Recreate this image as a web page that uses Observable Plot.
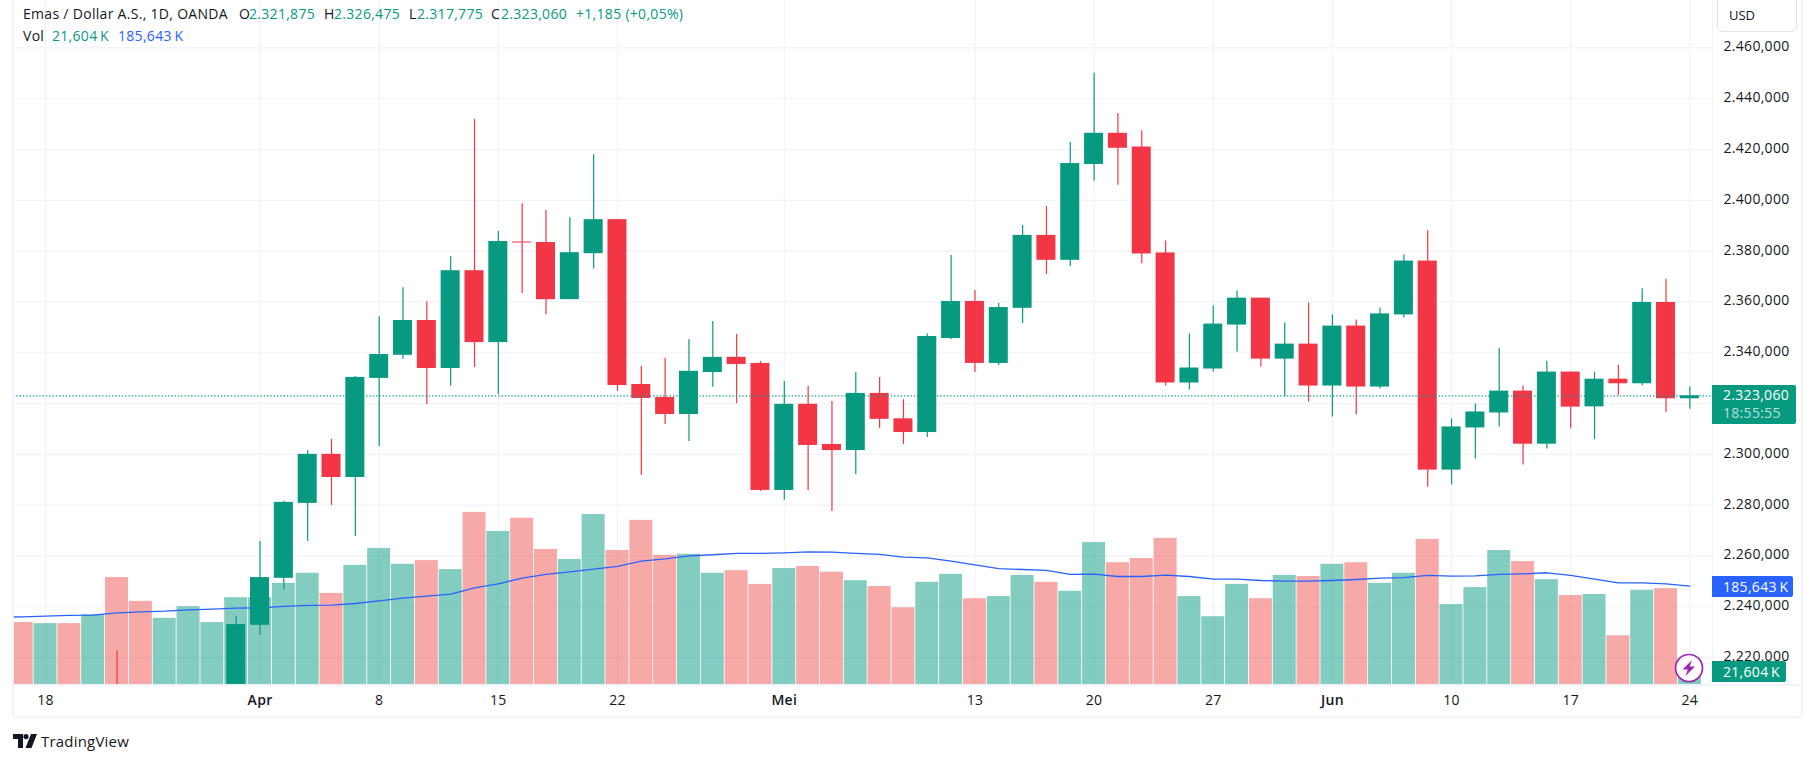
<!DOCTYPE html>
<html><head><meta charset="utf-8">
<script src="https://cdn.jsdelivr.net/npm/d3@7"></script>
<script src="https://cdn.jsdelivr.net/npm/@observablehq/plot@0.6"></script>
<style>
html,body{margin:0;padding:0;background:#fff;width:1815px;height:763px;overflow:hidden}
#wrap{position:relative;width:1815px;height:763px;font-family:"Open Sans",sans-serif;color:#131722}
#wrap svg{display:block}
.t{position:absolute;white-space:nowrap;font-size:14px;letter-spacing:.3px;line-height:18px}
.g{color:#089981}.b{color:#2962FF}
.tag{position:absolute;left:1712px;color:#fff;border-radius:0 2px 2px 0;font-size:14px;letter-spacing:.3px;line-height:18px;box-sizing:border-box;padding-left:11px;white-space:nowrap}
.box{position:absolute;background:#f0f3fa}
</style></head><body><div id="wrap"></div>
<script>
// Bars run from index -10 (left of the pane) to 61 (Jun 24); index 1 is Apr 1. Prices in USD, volume in K.
const opens=[null,null,null,null,null,null,null,null,null,null,
2206,2232.7,2251.2,2280.7,2300,2290.9,2329.9,2339,2352.7,2333.8,2372.3,2344,2383.6,2383.4,2360.9,2379,2392.4,
2327.5,2322.4,2315.7,2332.2,2338.2,2335.8,2285.8,2319.7,2303.9,2301.5,2324,2314,2308.6,2345.6,2360.2,2335.8,2357.5,2386.2,2376.4,2414.1,
2426.4,2421,2379.3,2328.1,2333.6,2350.9,2361.5,2337.5,2343.4,2326.9,2350.5,2326.5,2354.9,2376.1,2293.8,2310.4,2316.3,2324.9,2304,2332.4,2318.7,2329.6,2327.8,2359.8,2321.875];
const closes=[null,null,null,null,null,null,null,null,null,null,
2233,2251.5,2281.1,2300,2290.9,2330.3,2339.3,2352.7,2333.8,2372.3,2344,2383.8,2383.2,2360.9,2379.4,2392.4,2327.1,
2322,2315.7,2332.7,2338.2,2335.4,2285.8,2319.7,2303.5,2301.5,2324,2313.8,2308.6,2346.4,2360.2,2335.8,2357.8,2386.2,2376.4,2414.5,2426.4,
2420.5,2378.9,2328.1,2334,2351.3,2361.5,2337.5,2343.4,2326.9,2350.5,2326.5,2355.3,2376.1,2293.8,2310.8,2316.7,2324.9,2304,2332.4,2318.6,2329.6,2327.8,2359.8,2321.9,2323.06];
const highs=[null,null,null,null,null,2222.7,null,null,null,null,
2236.2,2265.7,2281.5,2301.5,2305.9,2330.7,2354.2,2365.6,2360.1,2377.8,2431.8,2387.7,2398.7,2396,2393.2,2418,2392.4,
2334.6,2337.8,2345.2,2352.3,2347.2,2336.6,2328.7,2326.8,2320.8,2332.2,2330.3,2321.5,2347.4,2378.3,2364.5,2359.4,2390.1,2397.6,2422.8,2450,
2434.2,2427.4,2384,2347.4,2358.4,2364.3,2361.5,2351.7,2359.6,2354.9,2352.9,2357.6,2378.5,2388,2314,2319.8,2341.8,2326.9,2336.7,2332.4,2332.4,2335.1,2365.2,2368.9,2326.475];
const lows=[null,null,null,null,null,2200,null,null,null,null,
2200,2228.8,2246.8,2265.7,2279.9,2267.7,2303.1,2337.4,2319.6,2326.8,2334.2,2323.6,2363.3,2355,2360.9,2373,2324.8,
2291.7,2311.8,2305.1,2326.4,2320,2285.4,2281.9,2285.8,2277.5,2292,2310.2,2303.9,2306.6,2345.2,2332.2,2335,2351.5,2370.8,2374,2407.5,
2405.9,2375,2326.9,2325.3,2332.4,2340.3,2334.4,2322.6,2320.6,2314.7,2315.5,2325.7,2353.7,2287.1,2287.9,2298.2,2310.8,2295.8,2302.1,2310,2305.9,2323.2,2327,2316.4,2317.775];
const volumes=[null,117,115,115,132,202,157,125,147,117,
164,164,191,210,172,225,257,227,234,217,325,289,314,255,236,321,253,
310,244,246,210,215,189,219,223,212,196,185,145,193,208,162,166,206,193,176,268,
230,238,276,166,128,189,162,206,204,227,230,191,210,274,151,183,253,232,198,168,170,92,178,181,21.604];
const volumeSma=[127,127.8,129,130.4,131,135.4,137.3,138.6,141,142.3,
144.2,144.8,147.4,149.3,149.9,153,158,163.1,166.9,170.7,182.6,190.2,200.9,207.8,212.8,217.9,222.9,
233,237.4,243,245,247.5,247.5,248.7,250.6,250,247.5,245.6,240.5,239.3,233,226,219,217.2,215.4,207.8,208.4,
204,204,206.5,204,199,199,196.4,195.2,195.2,196.4,198.3,200.8,202,205.9,204.6,205.2,207.8,209,211,205.9,199,192,192,190,185.643];
const offscreenUp=[null,false,true,false,true,false,false,true,true,true];
const priceTicks=[2220,2240,2260,2280,2300,2320,2340,2360,2380,2400,2420,2440,2460];
const labelledPriceTicks=[2220,2240,2260,2280,2300,2340,2360,2380,2400,2420,2440,2460];
const plainTicks=[[-8,"18"],[6,"8"],[11,"15"],[16,"22"],[31,"13"],[36,"20"],[41,"27"],[51,"10"],[56,"17"],[61,"24"]];
const monthTicks=[[1,"Apr"],[23,"Mei"],[46,"Jun"]];

const GREEN="#089981",RED="#F23645",BLUE="#2962FF",GRID="#f1f3f8",VOLRED="#EF5350";
const bars=volumes.map((v,k)=>({i:k-10,open:opens[k],close:closes[k],high:highs[k],low:lows[k],volume:v,sma:volumeSma[k],
  up:opens[k]!=null?closes[k]>=opens[k]:offscreenUp[k]}));
const wicks=bars.filter(d=>d.high!=null);
const bodies=bars.filter(d=>d.open!=null);
const vols=bars.filter(d=>d.volume!=null);
const last=bars[bars.length-1];

// Volume shares the pane on its own overlay axis, mapped onto the price axis.
const PRICE_LOW=2209.4,PRICE_HIGH=2478.68;
const volY=d3.scaleLinear([0,1000],[PRICE_LOW,PRICE_LOW+208.46]);
const id=d3.formatLocale({decimal:",",thousands:".",grouping:[3],currency:["",""]});
const fmtPrice=id.format(",.3f");
const FONT='"Open Sans",sans-serif';

const chart=Plot.plot({
  width:1815,height:763,marginLeft:13,marginRight:103,marginTop:0,marginBottom:79,
  x:{domain:[-9.345,61.95],axis:null},
  y:{domain:[PRICE_LOW,PRICE_HIGH],axis:null},
  style:{fontFamily:FONT,background:"transparent",overflow:"visible",letterSpacing:"0.3px"},
  marks:[
    Plot.ruleY(priceTicks,{stroke:GRID,strokeWidth:1.2}),
    Plot.ruleX([...plainTicks,...monthTicks],{x:d=>d[0],stroke:GRID,strokeWidth:1.2}),
    Plot.rectY(vols,{x1:d=>d.i-0.482,x2:d=>d.i+0.482,y1:()=>PRICE_LOW,y2:d=>volY(d.volume),fill:d=>d.up?GREEN:VOLRED,fillOpacity:0.5,clip:true}),
    Plot.line(bars,{x:"i",y:d=>volY(d.sma),stroke:BLUE,strokeWidth:1.3,clip:true}),
    Plot.ruleX(wicks,{x:"i",y1:"low",y2:"high",stroke:d=>d.up?GREEN:RED,strokeWidth:1.2,clip:true}),
    Plot.rectY(bodies,{x1:d=>d.i-0.399,x2:d=>d.i+0.399,y1:"open",y2:"close",fill:d=>d.up?GREEN:RED,clip:true}),
    Plot.ruleY([last.close],{stroke:GREEN,strokeWidth:1.3,strokeDasharray:"1.3 2"}),
    Plot.axisY({anchor:"right",ticks:labelledPriceTicks,tickFormat:fmtPrice,tickSize:0,tickPadding:11,dy:-1,fontSize:14,color:"#131722",label:null}),
    Plot.text(plainTicks,{x:d=>d[0],text:d=>d[1],frameAnchor:"bottom",dy:20,fontSize:14,fill:"#131722"}),
    Plot.text(monthTicks,{x:d=>d[0],text:d=>d[1],frameAnchor:"bottom",dy:20,fontSize:14,fill:"#131722",fontWeight:600})
  ]
});
const wrap=document.getElementById("wrap");
wrap.appendChild(chart);
const sy=chart.scale("y"),sx=chart.scale("x");
function add(html,style,cls){const e=document.createElement("div");if(cls)e.className=cls;e.style.cssText=style;e.innerHTML=html;wrap.appendChild(e);return e}

// frame lines
add("","left:12px;top:0;width:2px;height:716px","box");
add("","left:13px;top:684px;width:1789px;height:1.5px","box");
add("","left:13px;top:716px;width:1789px;height:1.5px","box");
add("","left:1801px;top:0;width:2px;height:717px","box");
add("","left:1712px;top:0;width:1px;height:684px","box");

// header legend
const head=[[23,"Emas / Dollar A.S., 1D, OANDA",""],[239,"O",""],[249,"2.321,875","g"],[324,"H",""],[334,"2.326,475","g"],[409,"L",""],[417,"2.317,775","g"],[491,"C",""],[501,"2.323,060","g"],[576,"+1,185 (+0,05%)","g"]];
head.forEach(([x,s,c])=>add(s,`left:${x}px;top:5px`,"t "+c));
add("Vol","left:23px;top:27px","t");
add("21,604&#8201;K","left:52px;top:27px","t g");
add("185,643&#8201;K","left:118px;top:27px","t b");

// USD button
add("USD",'position:absolute;left:1717px;top:-1px;width:80px;height:33px;box-sizing:border-box;border:1px solid #e0e3eb;border-radius:0 0 6px 6px;font-size:13px;line-height:31px;padding-left:11px;background:#fff');

// axis tags, placed through the chart's own scale
const cy=sy.apply(last.close);
add(`${fmtPrice(last.close)}<br><span style="opacity:.7">18:55:55</span>`,`top:${cy-10}px;width:84px;height:39px;background:${GREEN};padding-top:1px;line-height:18px`,"tag");
add("185,643&#8201;K",`top:${sy.apply(volY(last.sma))-10}px;width:81px;height:21px;background:${BLUE};line-height:21px`,"tag");
add("21,604&#8201;K",`top:661px;width:74px;height:21px;background:${GREEN};line-height:21px`,"tag");

// lightning badge over the last bar
const bx=sx.apply(last.i);
add(`<svg width="30" height="30" viewBox="0 0 30 30"><circle cx="15" cy="15" r="13.5" fill="#fff" stroke="#9c27b0" stroke-width="1.7"/><path d="M18 7 L8.5 16.5 H13.8 L11.5 23 L21 13.5 H15.7 Z" fill="#9c27b0"/></svg>`,`position:absolute;left:${bx-15}px;top:653px;width:30px;height:30px`);

// TradingView mark
add(`<svg width="24" height="14" viewBox="0 0 24 14"><path d="M0 0H10V14H5V5H0Z M13 0A2.6 2.6 0 1 1 13 5.2A2.6 2.6 0 1 1 13 0Z M18 0H24L18.5 14H12.5Z" fill="#131722"/></svg>`,'position:absolute;left:13px;top:734px;width:24px;height:14px');
add("TradingView",'position:absolute;left:41px;top:731px;font-size:15px;letter-spacing:.2px;line-height:20px;font-weight:500;color:#131722');
</script></body></html>
